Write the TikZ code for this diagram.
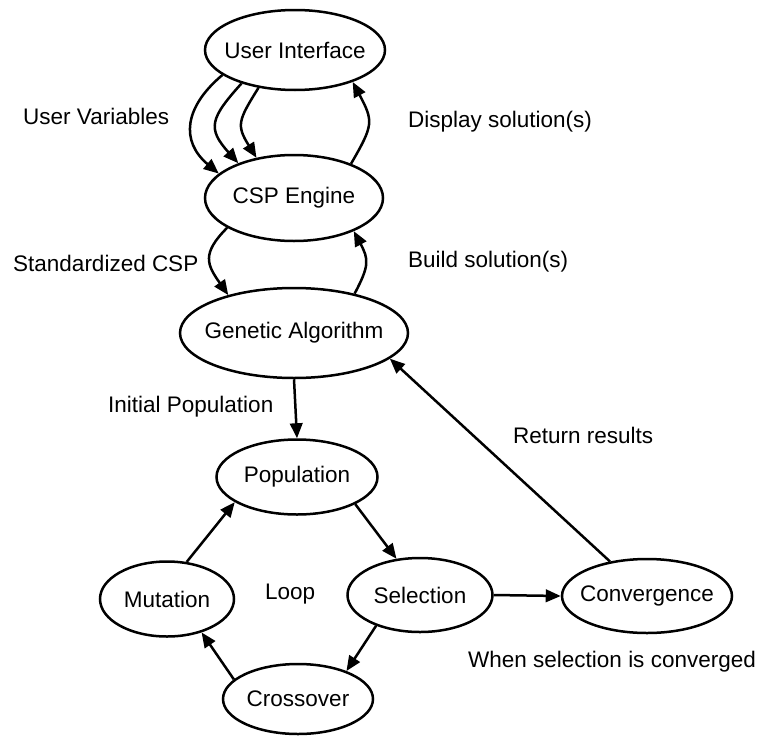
\documentclass[tikz,border=0pt]{standalone}
\usepackage{fontspec}
\setmainfont{Liberation Sans}
\usetikzlibrary{shapes.geometric,arrows.meta}
% zero-width box so the ellipse size is set only by its minimum dimensions
\newcommand\zw[1]{\makebox[0pt]{#1}}
\begin{document}
\begin{tikzpicture}[x=1pt,y=1pt,
  font=\fontsize{22.5}{27}\selectfont,
  state/.style={ellipse,draw,line width=2.5pt,inner sep=0pt},
  lbl/.style={inner sep=0pt,anchor=base west},
  flow/.style={line width=2.5pt,-{Triangle[length=15pt,width=12.5pt]}}]
\useasboundingbox (0,0) rectangle (765,-736);

% components
\node[state,minimum width=180,minimum height=80] (ui)    at (295,-50)  {\zw{User Interface}};
\node[state,minimum width=178,minimum height=86] (csp)   at (294,-198) {\zw{CSP Engine}};
\node[state,minimum width=228,minimum height=90] (ga)    at (294,-333) {\zw{Genetic Algorithm}};
\node[state,minimum width=161,minimum height=75] (pop)   at (297,-477) {\zw{Population}};
\node[state,minimum width=134,minimum height=75] (mut)   at (167,-599) {\zw{Mutation}};
\node[state,minimum width=145,minimum height=74] (sel)   at (420,-595) {\zw{Selection}};
\node[state,minimum width=170,minimum height=74] (conv)  at (647,-596) {\zw{Convergence}};
\node[state,minimum width=150,minimum height=70] (cross) at (298,-699) {\zw{Crossover}};

% interface <-> engine
\draw[flow] (ui.-161) to[out=220,in=140,looseness=1.3] (csp.162);
\draw[flow] (ui.212)  to[out=228,in=132,looseness=1.5] (csp.148);
\draw[flow] (ui.226)  to[out=238,in=122,looseness=1.4] (csp.133);
\draw[flow] (csp.31)  to[out=60,in=-62,looseness=1.4] (ui.-29);

% engine <-> genetic algorithm
\draw[flow] (csp.204) to[out=225,in=125,looseness=1.4] (ga.150);
\draw[flow] (ga.33)   to[out=62,in=-62,looseness=1.3] (csp.-29);

% genetic algorithm loop
\draw[flow] (ga.south) -- (pop.north);
\draw[flow] (pop.-25)  -- (sel.123);
\draw[flow] (sel.215)  -- (cross.30);
\draw[flow] (cross.163) -- (mut.-44);
\draw[flow] (mut.62)   -- (pop.-158);
\draw[flow] (sel.east) -- (conv.west);
\draw[flow] (conv.137) -- (ga.-15);

% labels
\node[lbl] (lvars)  at (23,-124)  {User Variables};
\node[lbl] (ldisp)  at (408,-127) {Display solution(s)};
\node[lbl] (lstd)   at (13,-271)  {Standardized CSP};
\node[lbl] (lbuild) at (408,-267) {Build solution(s)};
\node[lbl] (linit)  at (108,-412) {Initial Population};
\node[lbl] (lret)   at (513,-443) {Return results};
\node[lbl] (lloop)  at (265,-599) {Loop};
\node[lbl] (lconv)  at (468,-667) {When selection is converged};
\end{tikzpicture}
\end{document}
